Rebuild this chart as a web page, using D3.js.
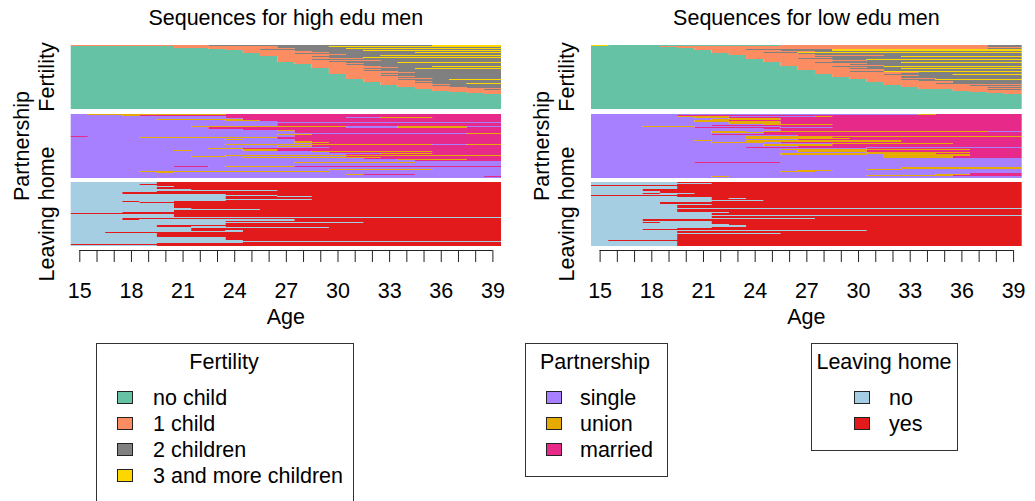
<!DOCTYPE html>
<html>
<head>
<meta charset="utf-8">
<script src="https://cdn.jsdelivr.net/npm/d3@7"></script>
<style>
  body { margin: 0; background: #fff; }
  svg { display: block; font-family: "Liberation Sans", Arial, sans-serif; }
</style>
</head>
<body>
<svg id="chart" width="1035" height="501"></svg>
<script>
// sequence index plot, two groups x three channels
// each row: "state" then "stateAge" tokens -> state from that age on (first token starts at 15)

const ages = [15,16,17,18,19,20,21,22,23,24,25,26,27,28,29,30,31,32,33,34,35,36,37,38,39];
const tickLabels = [15,18,21,24,27,30,33,36,39];

const fertCodes = ["N","A","B","C"];
const fertLabels = ["no child","1 child","2 children","3 and more children"];
const fertColors = ["#66c2a5","#fc8d62","#808080","#ffd700"];

const partCodes = ["S","U","M"];
const partLabels = ["single","union","married"];
const partColors = ["#a680ff","#e6ab02","#e7298a"];

const leaveCodes = ["N","Y"];
const leaveLabels = ["no","yes"];
const leaveColors = ["#a6cee3","#e31a1c"];

const highFert = [
  "A B23 C36","N A21 B27 C30","N A21 B27","N A23 B28 C31","N A24 B26",
  "N A25 B28 C32","N A25 B29","N A25 B30 C35","N A26 B28","N A26 B31",
  "N A26 B30 C33","N A27 B29","N A27 B30 C32","N A27 B32","N A27 B29",
  "N A27 B33","N A27 B30","N A28 B31 C34","N A28 B32","N A29 B31",
  "N A29 B32","N A29 B33 C36","N A29 B34","N A30 B32 C35","N A30 B33",
  "N A30 B32","N A30 B34","N A30 B35","N A30 B33","N A31 B34",
  "N A31 B33","N A31 B35","N A31 B34","N A31 B36","N A32 B34 C37",
  "N A32 B35","N A32 B36","N A33 B35","N A33 B36 C38","N A33 B37",
  "N A34 B36","N A34 B37","N A35 B38","N A35","N A36 B39",
  "N A36","N A37","N A38","N A39",
  "N","N","N","N","N","N","N","N","N","N","N","N","N","N","N"
];
const highPart = [
  "S U16 M24","S U18 M19","S M24","S M24 S31 U33 M36","S M25",
  "S U20 M25","S U24 M26","S M27","S","S M27",
  "S M27","S M27","S U22 S31 U34 S38","S M23 S31 U34 M38","S M23",
  "S M25","S U27 M28","S M28","S M28","S U38",
  "S U27 M29","S M28","M S16 M28","S U19 M27","S M27",
  "S U24 S25 M28","S M28","S U28 M29","S U28 M30","S M29",
  "S U24 S36 U38","S M29","S U27 M29","S M30","S U23 M25",
  "S U25 M27","S U21 S22 U25 M27","S U29 M36","S M30","S U33 M36",
  "S M31","S U24","S U22 S24 M31","S U25 M33","S M32",
  "S U34 M38","S M35","S","S U28 S35","S",
  "S","S","S M21 S23 U24 M28","S","S",
  "S U30 S36","S","S U19 S30","S U20 S21","S",
  "S U31 M32 S35","S","S M39","S"
];
const highLeave = [
  "N Y20","N Y20","N Y19","N Y20","N Y21","N Y20","N Y20","N Y22","N Y27","N Y20",
  "N Y18","N Y18","N Y24","N Y27","N Y24 N27 Y29","N Y24","N Y24","N Y29","N Y24","N Y18 N19 Y21",
  "N Y19","N Y21","N Y21","N Y21","N Y21","N Y21","N Y22","N Y26","N Y21","N Y21",
  "N Y18","Y","N Y21","N Y21","N Y21","N","N Y18","N Y18 N19 Y28","N Y28","N Y24",
  "N Y32","N Y24","N Y24","N Y20","N Y20 N22 Y24","N Y30","N Y22","N Y22","N Y22 N24 Y25","N Y25",
  "N Y17","N Y20","N Y20","N Y20","N Y20","N Y24","N Y24","N Y24","N Y25","N",
  "N Y25","N Y20","Y","N Y20"
];

const lowFert = [
  "C N16 A26 B38","N A19 B38","N A20","N A21 B38","N A21 B24 C29",
  "N A22 B26 C29","N A22 B28","N A22 B25 C27","N A23 B27","N A23 B28",
  "N A24 B32","N A24 B28 C33","N A24 B29","N A24 B27","N A25 B29 C31",
  "N A25 B31","N A25 B29","N A26 B28 C33","N A26 B31","N A26 B30",
  "N A26 B32","N A27 B29 C32","N A27 B31","N A27 B30 C33","N A27 B32",
  "N A28 B32","N A28 B30 C32","N A28 B34","N A28 B33","N A29 B32 C36",
  "N A29 B34","N A29 B33","N A30 B33","N A30 B35","N A31 B33 C35",
  "N A31 B34","N A31 B36","N A32 B36","N A32 B35","N A32",
  "N A33 B37","N A33","N A34 B38","N A34","N A36 B38",
  "N A36","N A37","N A38","N A39",
  "N","N","N","N","N","N","N","N","N","N","N","N","N","N","N"
];
const lowPart = [
  "S U34 M35","S M20","S U20 S23 U28 M29","S U21 M23","S U23 M26",
  "S U22 M26","S U21 M23","S U21 M26","S U23 M26","S U23 M26",
  "S U25 M29","S M22","S U18 S21 M26","S M21 S26 M29","S M25",
  "S M26","S M26","S U22 S24 U25 S38","S U22 M25","S M25",
  "S M22","S M27","S U24","S U24 M29","S U24 M30",
  "S M27","S U21 S22 U24 M33","S U24 M33","S U22 S25 M26","S U29 M36",
  "S U25 M29","S U25 M29","S M27","S M24 S31","S M31",
  "S U26 M37","S U27 M31","S U27 M31","S U31 M37","S U26 M35",
  "S U26 S31 U32 M37","S U32 M37","S U32 M36","S U32 M36","S",
  "S","S","S","S M21 S26","S",
  "S","S","S","S U33","S U33",
  "S U31 S33","S U27 S29","S U26 S28","S","S M37",
  "S U35 M37","S U31 M36","S U22 S23","S"
];
const lowLeave = [
  "N Y20","N Y22","N Y20","Y","N Y20","N Y20","N Y20","N Y18","N Y18","N Y19",
  "N Y19","N Y18 N19 Y21","N Y20","Y","N Y20","N Y22","N Y22 N23 Y24","N Y22","N Y25","N Y22",
  "N Y19","N Y19","N Y22","N Y20","N Y20","N Y20","N","N Y20","N Y20","N Y20",
  "N Y23","N Y22","N Y22","N","N Y22","N Y22","N Y28","N Y18","N Y18","N Y22",
  "N Y18 N19 Y22","N Y22","N Y23","N Y24","N Y24","N Y22","N Y20","N Y18","N Y31","N Y20",
  "N Y20","N Y26","N Y20","N Y20","N Y20","N Y20","N Y20","N Y20","N Y16","N Y20",
  "N Y20","N Y20","N Y20","N Y20"
];

const svg = d3.select("#chart");
const fs = 21.5;

function spells(code) {
  const toks = code.split(" ").map(t => ({s: t[0], from: t.length > 1 ? +t.slice(1) : ages[0]}));
  return toks.map((t, i) => ({s: t.s, from: t.from, to: i < toks.length - 1 ? toks[i + 1].from : ages[ages.length - 1] + 1}));
}

const channelY = [[45, 109], [114, 178], [182, 246]];
const channelNames = ["Fertility", "Partnership", "Leaving home"];

const groups = [
  {title: "Sequences for high edu men", x0: 70.7, x1: 501, dx: 0,
   data: [highFert, highPart, highLeave]},
  {title: "Sequences for low edu men", x0: 591, x1: 1021.7, dx: 520,
   data: [lowFert, lowPart, lowLeave]}
];
const channels = [
  {codes: fertCodes, colors: fertColors},
  {codes: partCodes, colors: partColors},
  {codes: leaveCodes, colors: leaveColors}
];

groups.forEach(g => {
  const x = d3.scaleLinear().domain([ages[0] - 0.5, ages[ages.length - 1] + 0.5]).range([g.x0, g.x1]);

  g.data.forEach((rows, ci) => {
    const ch = channels[ci];
    const color = d3.scaleOrdinal(ch.codes, ch.colors);
    const y = d3.scaleBand().domain(d3.range(rows.length)).range(channelY[ci]);
    const gg = svg.append("g");
    rows.forEach((code, ri) => {
      gg.selectAll(null)
        .data(spells(code))
        .enter()
        .append("rect")
        .attr("x", d => x(d.from - 0.5))
        .attr("width", d => x(d.to - 0.5) - x(d.from - 0.5))
        .attr("y", y(ri))
        .attr("height", y.bandwidth())
        .attr("fill", d => color(d.s));
    });
  });

  // title
  svg.append("text")
    .attr("x", (g.x0 + g.x1) / 2)
    .attr("y", 25)
    .attr("text-anchor", "middle")
    .attr("font-size", fs)
    .text(g.title);

  // channel labels
  const labX = [54 + g.dx, 29 + g.dx, 54 + g.dx];
  channelNames.forEach((n, i) => {
    const cy = (channelY[i][0] + channelY[i][1]) / 2;
    svg.append("text")
      .attr("transform", `translate(${labX[i]},${cy}) rotate(-90)`)
      .attr("text-anchor", "middle")
      .attr("font-size", fs)
      .text(n);
  });

  // x axis
  const ax = svg.append("g")
    .attr("transform", "translate(0,250)")
    .call(d3.axisBottom(x).tickValues(ages).tickSize(12).tickSizeOuter(0)
      .tickFormat(d => tickLabels.includes(d) ? d : ""));
  ax.select(".domain").attr("d", `M${x(ages[0])},0.5H${x(ages[ages.length - 1])}`).attr("stroke", "#222");
  ax.selectAll(".tick line").attr("stroke", "#222");
  ax.selectAll("text").attr("y", 48).attr("dy", null).attr("font-size", fs)
    .attr("font-family", "Liberation Sans, Arial, sans-serif").attr("fill", "#000");

  svg.append("text")
    .attr("x", (g.x0 + g.x1) / 2)
    .attr("y", 324)
    .attr("text-anchor", "middle")
    .attr("font-size", fs)
    .text("Age");
});

// legends
const legends = [
  {title: "Fertility", labels: fertLabels, colors: fertColors, box: [96, 343, 353, 520], tx: 224, sx: 117, lx: 153},
  {title: "Partnership", labels: partLabels, colors: partColors, box: [525, 343, 667, 476], tx: 595, sx: 546, lx: 580},
  {title: "Leaving home", labels: leaveLabels, colors: leaveColors, box: [811, 343, 957, 450], tx: 884, sx: 854, lx: 889}
];

legends.forEach(l => {
  const lg = svg.append("g");
  lg.append("rect")
    .attr("x", l.box[0] + 0.5).attr("y", l.box[1] + 0.5)
    .attr("width", l.box[2] - l.box[0]).attr("height", l.box[3] - l.box[1])
    .attr("fill", "none").attr("stroke", "#333");
  lg.append("text")
    .attr("x", l.tx).attr("y", 369)
    .attr("text-anchor", "middle")
    .attr("font-size", fs)
    .text(l.title);
  const item = lg.selectAll(".item")
    .data(l.labels)
    .enter()
    .append("g")
    .attr("transform", (d, i) => `translate(0,${398 + i * 26})`);
  item.append("rect")
    .attr("x", l.sx + 0.5).attr("y", -6.5)
    .attr("width", 15).attr("height", 12)
    .attr("fill", (d, i) => l.colors[i])
    .attr("stroke", "#222");
  item.append("text")
    .attr("x", l.lx).attr("y", 7)
    .attr("font-size", fs)
    .text(d => d);
});
</script>
</body>
</html>
